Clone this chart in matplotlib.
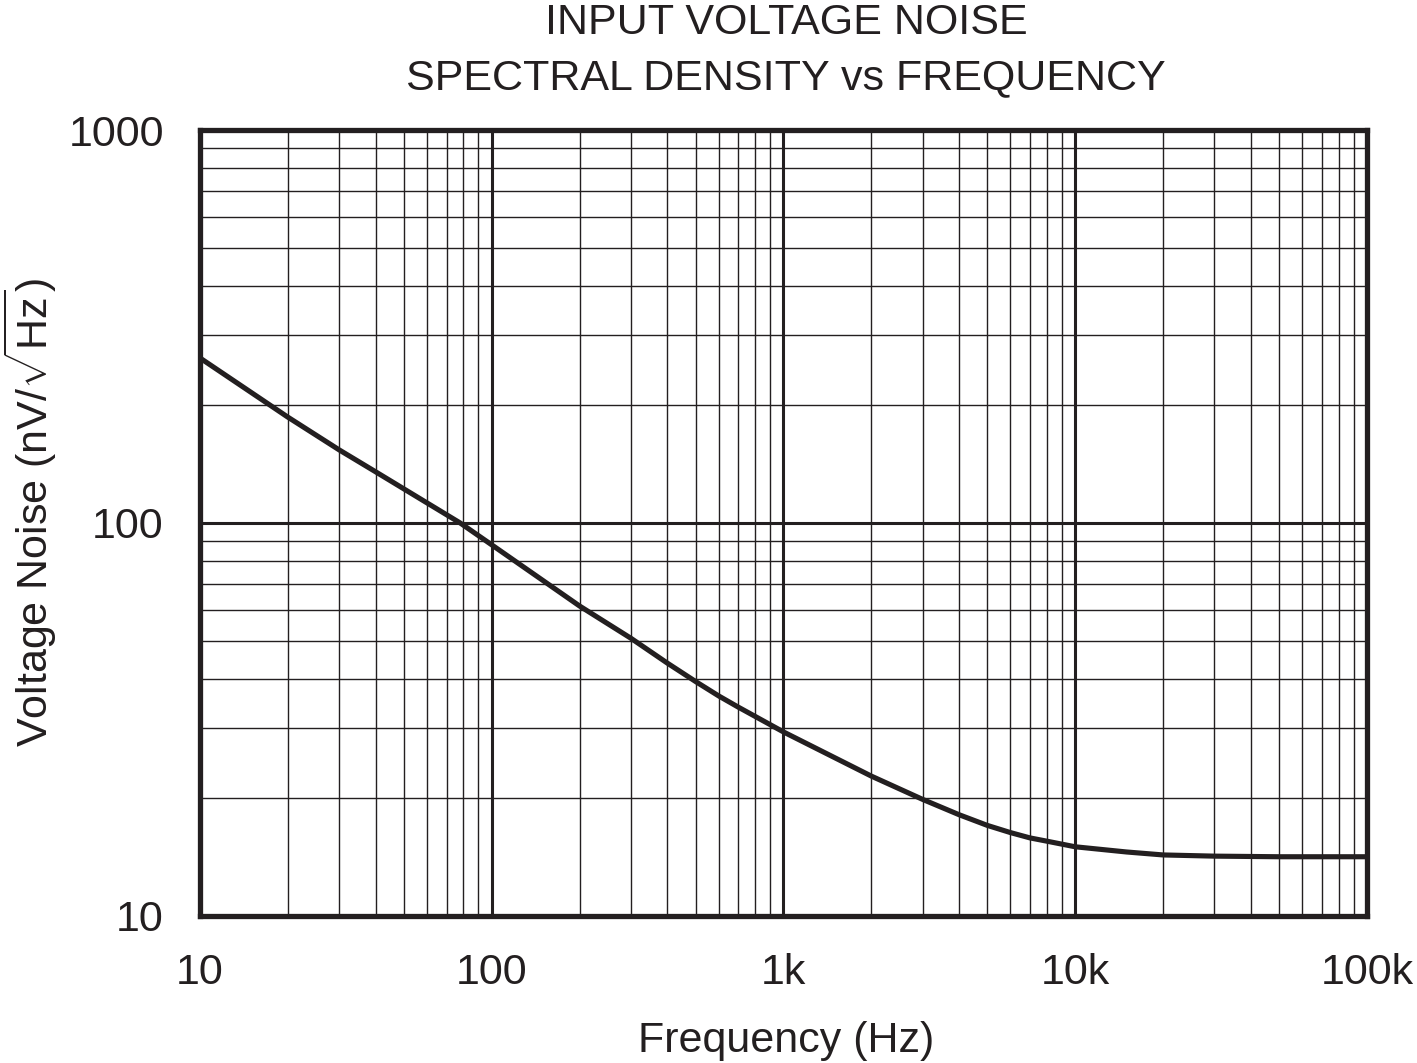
import matplotlib
matplotlib.use("Agg")
import matplotlib.pyplot as plt
from matplotlib.ticker import FixedLocator, LogLocator, NullFormatter

# values
freq = [10, 20, 30, 40, 78, 100, 200, 300, 400, 500, 600, 700, 1000, 2000,
        3000, 4000, 5000, 6000, 7000, 8000, 10000, 15000, 20000, 30000,
        50000, 100000]
noise = [263, 186, 153.5, 135, 100, 88, 61.5, 50.9, 44, 39.5, 36.3, 34.0,
         29.4, 22.7, 19.8, 18.1, 17.0, 16.3, 15.8, 15.5, 15.0, 14.55, 14.3,
         14.2, 14.15, 14.15]

x_ticks = [10, 100, 1000, 10000, 100000]
x_labels = ["10", "100", "1k", "10k", "100k"]
y_ticks = [10, 100, 1000]
y_labels = ["10", "100", "1000"]

ink = "#231f20"
plt.rcParams["font.family"] = ["Liberation Sans", "DejaVu Sans"]
plt.rcParams["mathtext.fontset"] = "custom"
plt.rcParams["mathtext.rm"] = "Liberation Sans"
plt.rcParams["mathtext.it"] = "Liberation Sans"

fig = plt.figure(figsize=(14.17, 10.63), dpi=100)
ax = fig.add_axes([0.1411, 0.1383, 0.8236, 0.7394])

ax.plot(freq, noise, color=ink, linewidth=3.7, solid_joinstyle="round",
        zorder=5)

ax.set_xscale("log")
ax.set_yscale("log")
ax.set_xlim(10, 100000)
ax.set_ylim(10, 1000)

ax.xaxis.set_major_locator(FixedLocator(x_ticks))
ax.set_xticklabels(x_labels)
ax.yaxis.set_major_locator(FixedLocator(y_ticks))
ax.set_yticklabels(y_labels)
ax.xaxis.set_minor_locator(LogLocator(base=10, subs=range(2, 10)))
ax.yaxis.set_minor_locator(LogLocator(base=10, subs=range(2, 10)))
ax.xaxis.set_minor_formatter(NullFormatter())
ax.yaxis.set_minor_formatter(NullFormatter())

ax.grid(which="major", color=ink, linewidth=2.2)
ax.grid(which="minor", color=ink, linewidth=1.0)
ax.tick_params(which="both", length=0, labelsize=31, colors=ink)
ax.tick_params(axis="x", pad=27)
ax.tick_params(axis="y", pad=26)

for s in ax.spines.values():
    s.set_linewidth(3.8)
    s.set_color(ink)
    s.set_zorder(6)

fig.text(0.5547, 0.021, "Frequency (Hz)", ha="center", va="center",
         fontsize=31, color=ink)
fig.text(0.0215, 0.518, r"Voltage Noise (nV/$\sqrt{\mathrm{Hz}}$)",
         ha="center", va="center", rotation=90, fontsize=31, color=ink)
fig.text(0.5547, 0.978, "INPUT VOLTAGE NOISE", ha="center", va="center",
         fontsize=31, color=ink)
fig.text(0.5547, 0.926, "SPECTRAL DENSITY vs FREQUENCY", ha="center",
         va="center", fontsize=31, color=ink)

fig.savefig("out.png", dpi=100, facecolor="white")
